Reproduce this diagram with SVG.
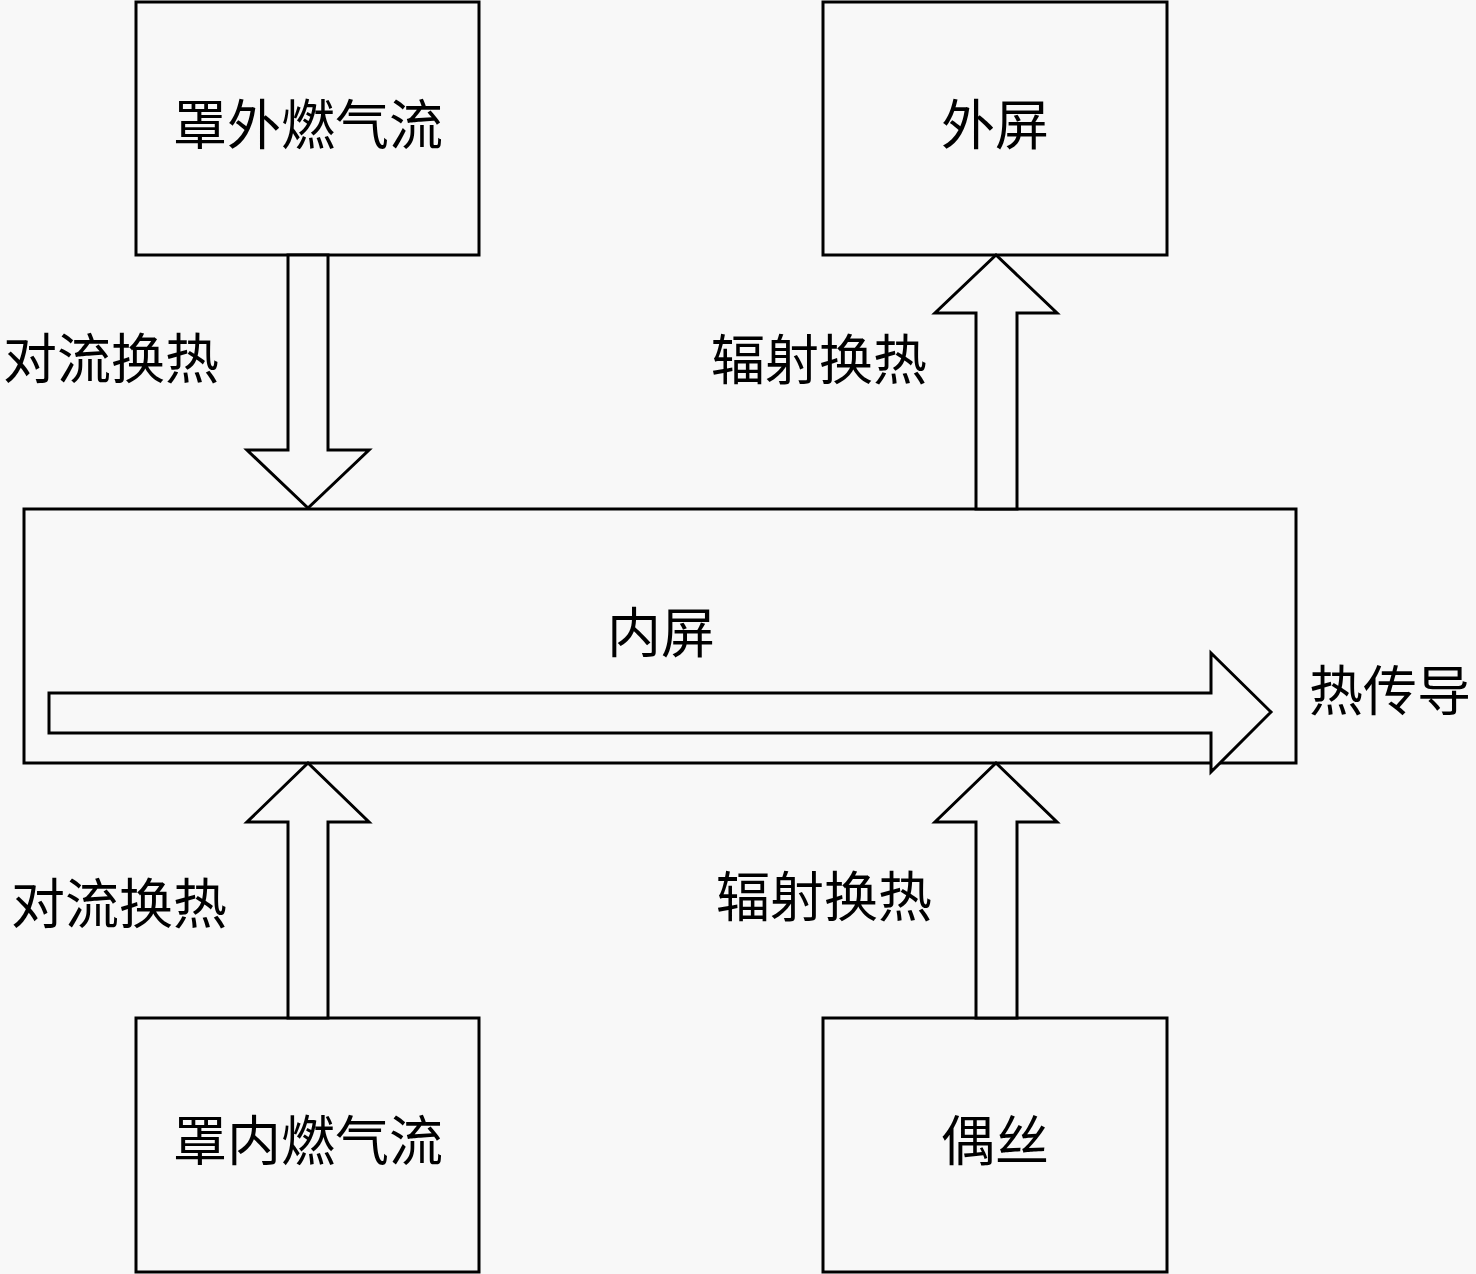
<svg xmlns="http://www.w3.org/2000/svg" width="1476" height="1274" viewBox="0 0 1476 1274">
<style>
.box{fill:#f8f8f8;stroke:#000;stroke-width:3}
.arr{fill:#f8f8f8;stroke:#000;stroke-width:3;stroke-linejoin:miter}
text{font-family:"Liberation Serif","Noto Sans CJK SC",serif;font-size:54px;fill:#000;dominant-baseline:central;text-anchor:middle}
</style>
<rect x="0" y="0" width="1476" height="1274" fill="#f8f8f8"/>
<g id="node-outer-gas"><rect class="box" x="136" y="2" width="343" height="253"/><text x="308" y="127">罩外燃气流</text></g>
<g id="node-outer-screen"><rect class="box" x="823" y="2" width="344" height="253"/><text x="995" y="127">外屏</text></g>
<g id="node-inner-screen"><rect class="box" x="24" y="509" width="1272" height="254"/><text x="661" y="635">内屏</text></g>
<g id="node-inner-gas"><rect class="box" x="136" y="1018" width="343" height="254"/><text x="308" y="1143">罩内燃气流</text></g>
<g id="node-thermocouple"><rect class="box" x="823" y="1018" width="344" height="254"/><text x="995" y="1143">偶丝</text></g>
<g id="connectors">
<polygon class="arr" points="288,255 328,255 328,450 369,450 308,508 247,450 288,450"/>
<polygon class="arr" points="976,509 1017,509 1017,313 1057,313 996,255 935,313 976,313"/>
<polygon class="arr" points="288,1018 328,1018 328,822 369,822 308,763 247,822 288,822"/>
<polygon class="arr" points="976,1018 1017,1018 1017,822 1057,822 996,763 935,822 976,822"/>
<polygon class="arr" points="49,693 1211,693 1211,653 1271,712 1211,772 1211,733 49,733"/>
<text x="111" y="361">对流换热</text>
<text x="819" y="362">辐射换热</text>
<text x="119" y="906">对流换热</text>
<text x="824" y="899">辐射换热</text>
<text x="1390" y="693">热传导</text>
</g>
</svg>
